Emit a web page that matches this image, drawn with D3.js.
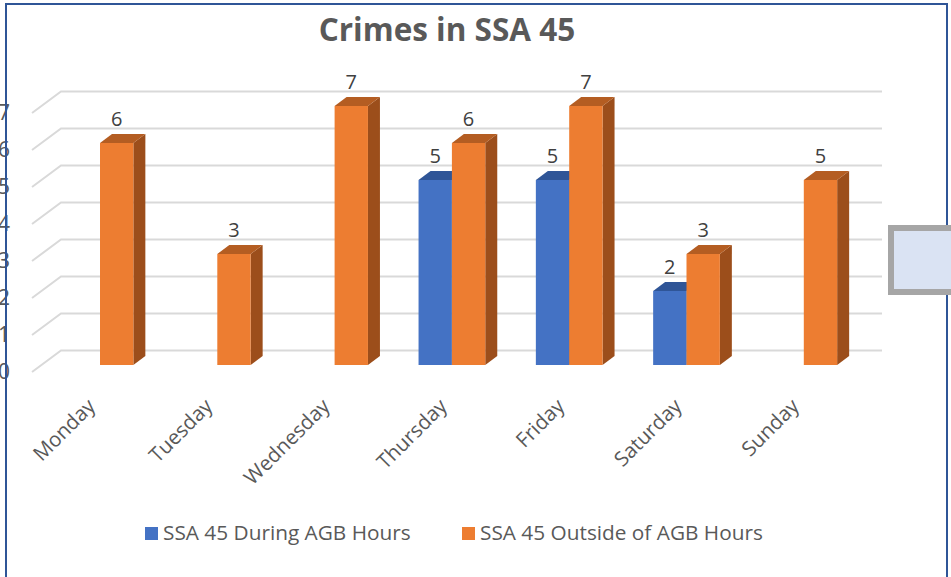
<!DOCTYPE html>
<html>
<head>
<meta charset="utf-8">
<script src="https://cdn.jsdelivr.net/npm/d3@7"></script>
<style>
  body { margin: 0; background: #fff; }
  svg { display: block; font-family: "Open Sans", sans-serif; }
</style>
</head>
<body>
<svg id="svg"></svg>
<script>
const days = ["Monday", "Tuesday", "Wednesday", "Thursday", "Friday", "Saturday", "Sunday"];
const seriesNames = ["SSA 45 During AGB Hours", "SSA 45 Outside of AGB Hours"];
const duringHours = [null, null, null, 5, 5, 2, null];
const outsideHours = [6, 3, 7, 6, 7, 3, 5];
const yTicks = [0, 1, 2, 3, 4, 5, 6, 7];

const svgWidth = 951;
const svgHeight = 577;

const colors = {
  front: ["#4472c4", "#ed7d31"],
  top: ["#2f5597", "#b45d22"],
  side: ["#2b4f8f", "#9c4e1b"]
};

const svg = d3.select("#svg").attr("width", svgWidth).attr("height", svgHeight);

// 3d offsets
const depthX = 12, depthY = -9;      // bar depth
const frontGrid = 7, backGrid = -14.5; // gridline planes relative to bar base
const gridFrontX = 32, gridBackX = 61, gridEndX = 882;

const xScale = d3.scaleBand().domain(days).range([41.35, 862.45]);
const inner = d3.scaleBand().domain(seriesNames).range([-33.35, 33.35]);
const yScale = d3.scaleLinear().domain([0, 7]).range([365, 106]);

svg.append("rect")
  .attr("width", svgWidth).attr("height", svgHeight)
  .attr("fill", "#fff");

// gridlines
svg.append("g")
  .selectAll("path")
  .data(yTicks)
  .join("path")
  .attr("d", d => `M${gridFrontX},${yScale(d) + frontGrid}L${gridBackX},${yScale(d) + backGrid}L${gridEndX},${yScale(d) + backGrid}`)
  .attr("fill", "none")
  .attr("stroke", "#d9d9d9")
  .attr("stroke-width", 2);

// bars
const rows = days.map((day, i) => ({ day, values: [duringHours[i], outsideHours[i]] }));

const groups = svg.append("g")
  .selectAll("g")
  .data(rows)
  .join("g")
  .attr("transform", d => `translate(${xScale(d.day) + xScale.bandwidth() / 2},0)`);

const bars = groups.selectAll("g")
  .data(d => d.values.map((v, s) => ({ v, s })).filter(b => b.v !== null))
  .join("g");

bars.each(function (b) {
  const g = d3.select(this);
  const x0 = inner(seriesNames[b.s]);
  const x1 = x0 + inner.bandwidth();
  const yTop = yScale(b.v);
  const yBase = yScale(0);
  g.append("path")
    .attr("d", `M${x1},${yTop}L${x1 + depthX},${yTop + depthY}L${x1 + depthX},${yBase + depthY}L${x1},${yBase}Z`)
    .attr("fill", colors.side[b.s]);
  g.append("path")
    .attr("d", `M${x0},${yTop}L${x0 + depthX},${yTop + depthY}L${x1 + depthX},${yTop + depthY}L${x1},${yTop}Z`)
    .attr("fill", colors.top[b.s]);
  g.append("rect")
    .attr("x", x0).attr("y", yTop)
    .attr("width", inner.bandwidth()).attr("height", yBase - yTop)
    .attr("fill", colors.front[b.s]);
  g.append("text")
    .attr("x", (x0 + x1) / 2)
    .attr("y", yTop - 17)
    .attr("text-anchor", "middle")
    .attr("fill", "#404040")
    .style("font-size", "20px")
    .text(b.v);
});

// y axis labels (they sit right at the picture's left edge)
const yAxis = svg.append("g")
  .attr("transform", `translate(10,${frontGrid})`)
  .call(d3.axisLeft(yScale).tickValues(yTicks).tickFormat(d3.format("d")).tickSize(0).tickPadding(0));
yAxis.select(".domain").remove();
yAxis.selectAll("text")
  .attr("fill", "#595959")
  .style("font-size", "21px")
  .style("font-family", "'Open Sans', sans-serif");

// x axis labels
const xAxis = svg.append("g")
  .attr("transform", "translate(0,404)")
  .call(d3.axisBottom(xScale).tickSize(0));
xAxis.select(".domain").remove();
xAxis.selectAll("text")
  .attr("x", -5).attr("y", 0).attr("dy", null)
  .attr("text-anchor", "end")
  .attr("transform", "rotate(-45)")
  .attr("fill", "#595959")
  .style("font-size", "20.5px")
  .style("font-family", "'Open Sans', sans-serif");

// legend
const legendX = [145, 462];
const legend = svg.append("g")
  .selectAll("g")
  .data(seriesNames)
  .join("g")
  .attr("transform", (d, i) => `translate(${legendX[i]},527)`);
legend.append("rect")
  .attr("width", 13).attr("height", 13)
  .attr("fill", (d, i) => colors.front[i]);
legend.append("text")
  .attr("x", 18).attr("y", 13)
  .attr("fill", "#595959")
  .style("font-size", "20.8px")
  .text(d => d);

// title
svg.append("text")
  .attr("x", 447).attr("y", 41)
  .attr("text-anchor", "middle")
  .attr("fill", "#595959")
  .style("font-size", "31.5px")
  .style("font-weight", "bold")
  .text("Crimes in SSA 45");

// chart border
svg.append("path")
  .attr("d", "M6,600V4H947V600")
  .attr("fill", "none")
  .attr("stroke", "#2f5597")
  .attr("stroke-width", 2);

// box overlapping the right edge
svg.append("rect")
  .attr("x", 891).attr("y", 228)
  .attr("width", 80).attr("height", 64)
  .attr("fill", "#dae3f3")
  .attr("stroke", "#a6a6a6")
  .attr("stroke-width", 6);
</script>
</body>
</html>
